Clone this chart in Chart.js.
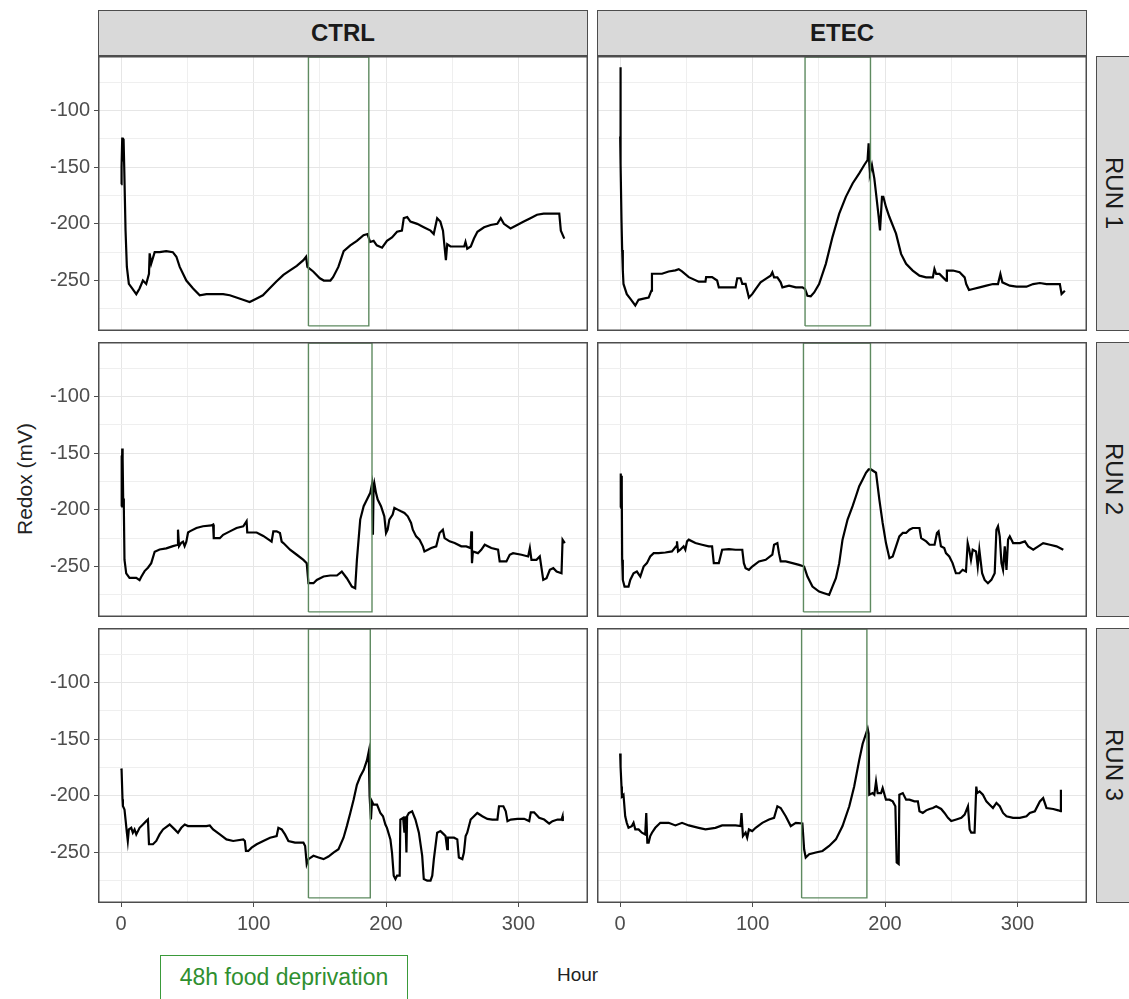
<!DOCTYPE html>
<html>
<head>
<meta charset="utf-8">
<title>Redox</title>
<script src="https://cdn.jsdelivr.net/npm/chart.js@4.4.1/dist/chart.umd.min.js"></script>
<style>
  body { margin: 0; background: #fff; }
  #page { position: relative; width: 1129px; height: 999px; overflow: hidden; background: #fff;
          font-family: "Liberation Sans", Arial, sans-serif; }
  .panel { position: absolute; }
  .strip-top { position: absolute; box-sizing: border-box; background: #d9d9d9; border: 1.5px solid #4d4d4d;
               display: flex; align-items: center; justify-content: center;
               font-weight: bold; font-size: 24px; color: #1a1a1a; }
  .strip-right { position: absolute; box-sizing: border-box; background: #d9d9d9; border: 1.5px solid #4d4d4d;
                 display: flex; align-items: center; justify-content: flex-start; padding-left: 5px;
                 font-size: 24px; color: #1a1a1a; }
  .strip-right span { writing-mode: vertical-rl; line-height: 24px; }
  #ytitle { position: absolute; left: 25px; top: 479px; transform: translate(-50%, -50%) rotate(-90deg);
            font-size: 21px; color: #222; white-space: nowrap; }
  #xtitle { position: absolute; left: 557px; top: 975px; transform: translateY(-50%);
            font-size: 19px; color: #222; }
  #note { position: absolute; left: 160px; top: 955px; width: 248px; height: 60px; box-sizing: border-box;
          border: 1.5px solid #3a9a3a; color: #2f8f2f; font-size: 23px; text-align: center; padding-top: 8px; }
</style>
</head>
<body>
<div id="page">
  <div id="ytitle">Redox (mV)</div>
  <div id="xtitle">Hour</div>
  <div id="note">48h food deprivation</div>
</div>
<script>
// facets
const groups = ['CTRL', 'ETEC'];
const runs = ['RUN 1', 'RUN 2', 'RUN 3'];

// axis ticks
const hourTicks = [0, 100, 200, 300];
const hourMinorTicks = [50, 150, 250];
const redoxTicks = [-100, -150, -200, -250];
const redoxMinorTicks = [-75, -125, -175, -225, -275];

// 48h food deprivation window, [row][col]
const deprivationStart = [[141.4, 139.6], [141.4, 138.4], [141.4, 137.0]];
const deprivationEnd = [[187.0, 189.0], [189.4, 189.0], [188.1, 186.3]];
const deprivationLow = -290;
const deprivationHigh = -53;

// [hour, redox mV]
const ctrlRun1 = [[0,-165],[0.3,-150],[0.8,-124],[1.3,-145],[1.8,-125],[2.3,-150],[2.8,-150],[3.3,-206],[4.3,-238],[5.8,-253],[8.3,-257],[11.4,-262],[13.9,-257],[16.4,-250],[18.9,-253],[21,-244],[21.5,-226],[22.7,-235],[25.3,-225],[29,-225],[34,-224],[39,-225],[41.7,-229],[44.2,-238],[49.2,-250],[54.3,-257],[59.3,-263],[64.4,-262],[77,-262],[82,-263],[87,-265],[92,-267],[97,-269],[102,-266],[107,-263],[112,-257],[117,-251],[122.5,-245],[127.5,-241],[132.6,-237],[137.6,-232],[139.6,-229],[140.6,-238],[145,-242],[150,-248],[153,-250],[158,-250],[160,-247],[164,-238],[168,-224],[173,-219],[178,-215],[183,-210],[186,-209],[188,-216],[190.6,-215],[193,-219],[197,-221],[200.7,-215],[204.5,-212],[208.3,-207],[212,-206],[213.4,-195],[216,-194],[218.4,-198],[223.5,-200],[228.5,-203],[233.6,-206],[236,-209],[238.6,-195],[241,-198],[243,-206],[244,-218],[245.2,-232],[246.2,-218],[248.7,-220],[254,-220],[259,-220],[260,-216],[261.3,-222],[264,-220],[266.4,-213],[269,-207],[274,-203],[279,-201],[284,-200],[286.6,-195],[289,-200],[294,-204],[299,-201],[304,-198],[309,-195],[314,-192],[319,-191],[324.5,-191],[330.8,-191],[332,-206],[334.6,-213]];
const etecRun1 = [[0,-123],[0.1,-62],[0.5,-147],[1,-197],[1.5,-223],[2,-241],[2.5,-253],[5,-262],[7.6,-266],[11.4,-272],[13.9,-267],[17.7,-266],[21.5,-265],[23.5,-259],[24,-244],[26.5,-244],[31.6,-244],[36.6,-242],[41.7,-241],[44.2,-240],[46.7,-242],[51.8,-247],[59.3,-251],[64.4,-251],[64.9,-247],[69.4,-247],[73.2,-250],[74.5,-256],[82.1,-256],[87.1,-256],[88.4,-248],[90.9,-248],[92.2,-253],[94.7,-253],[97.2,-265],[99.7,-262],[102.3,-257.5],[106,-251.6],[109.9,-248.6],[113.6,-245.7],[114.9,-242.7],[116.2,-247.2],[118.7,-247.2],[121.2,-251.6],[122.5,-256],[127.5,-254.5],[132.6,-256],[137.6,-256],[139.6,-257.5],[141.4,-263.4],[143.9,-263.9],[146.5,-260.5],[150.2,-253.1],[155.3,-235.3],[160.3,-211.7],[165.4,-191],[170.4,-176.2],[175.5,-164.4],[180.5,-155.5],[184.3,-148.1],[186.8,-143.7],[187.6,-129],[188.1,-146.7],[188.6,-155.5],[190.1,-148.1],[191.9,-159.9],[193.2,-173.2],[195.2,-193.9],[196.2,-205.8],[197.7,-176.2],[198.7,-176.2],[200.7,-185.1],[203.3,-194],[208.3,-208.7],[212.1,-226.5],[215.9,-235.3],[220.9,-241.2],[226,-245.7],[231,-247.2],[236.1,-247.2],[237.3,-239.8],[238.6,-244.2],[241.1,-244.2],[246.2,-250.1],[246.7,-241.2],[251.3,-241.2],[256.3,-242.7],[260.1,-247.2],[261.3,-253.1],[263.4,-258.4],[266.4,-257.5],[271.4,-256],[276.5,-254.5],[281.5,-253.1],[285.3,-253.1],[287.1,-244.2],[288.6,-251.6],[294.2,-254.5],[299.2,-255.4],[306.8,-255.4],[311.8,-253.1],[316.9,-252.2],[321.9,-253.1],[326.9,-253.1],[332,-253.1],[333.3,-261.9],[335.8,-259]];
const ctrlRun2 = [[0,-197],[0.2,-188],[0.4,-152],[0.6,-182],[0.8,-146],[1.0,-180],[1.2,-155],[1.5,-190],[2.0,-197],[2.5,-244],[3.8,-256],[6.3,-260],[8.8,-260],[11.4,-260],[13.9,-262],[15.2,-259],[17.7,-254],[20.2,-251],[22.7,-247],[25.3,-237],[29,-235],[34.1,-234],[39.1,-232],[42.2,-231],[42.9,-217.5],[43.7,-232],[45.4,-229],[46.7,-228],[47.9,-232],[49.2,-228],[50.5,-220],[51.8,-219],[56.8,-216],[61.8,-214.5],[68.2,-213.7],[69.4,-213],[69.9,-225],[74.5,-225],[77,-222],[82.1,-219],[87.1,-216],[92.2,-214.5],[94.7,-210],[95.2,-220],[102.3,-220],[107.3,-223],[113.6,-228],[114.9,-219],[117.4,-219],[119.9,-220.4],[121.2,-228],[122.5,-229.3],[127.5,-235.2],[132.6,-239.6],[137.6,-244.1],[140.1,-247],[141.4,-264.7],[145.2,-264.7],[147.7,-261.8],[152.8,-258.8],[157.8,-257.9],[162.9,-257.9],[166.6,-254.4],[170.4,-260.3],[174.2,-267.7],[176.7,-269.1],[178,-244.1],[180.5,-208.6],[183.1,-196.8],[185.6,-190.9],[188.1,-185],[189.4,-177.6],[190.1,-221.9],[190.6,-179.1],[191.1,-176.2],[192.4,-185],[193.7,-190.9],[196.2,-196.8],[198.7,-205.7],[200,-220.4],[201.2,-217.5],[202.5,-208.6],[205,-204.2],[206.3,-198.3],[208.8,-199.8],[211.3,-201.3],[213.9,-202.7],[216.4,-205.7],[218.9,-211.6],[220.2,-217.5],[222.7,-223.4],[225.3,-226.3],[227.8,-232.2],[229,-236.7],[231.6,-235.2],[234.1,-233.7],[237.9,-232.2],[240.4,-220.4],[242.9,-217.5],[244.2,-224.9],[248,-227.8],[251.8,-229.3],[256.8,-232.2],[260.6,-232.2],[263.9,-233.7],[264.4,-219],[264.9,-247],[265.6,-236.7],[269.4,-238.2],[271.9,-235.2],[274.5,-230.8],[279.5,-233.7],[284.6,-235.2],[285.8,-245.5],[290.9,-245.5],[293.4,-239.6],[295.9,-238.2],[302.3,-239.6],[307.3,-241.1],[308.6,-233.7],[309.8,-244.1],[313.6,-244.1],[316.1,-241.1],[318.7,-261.8],[321.2,-260.3],[323.7,-252.9],[326.3,-251.4],[328.8,-254.4],[332.5,-255.9],[333.3,-226.3],[335,-229.3]];
const etecRun2 = [[0,-198],[0.3,-168],[0.6,-196],[0.9,-170],[1.2,-182],[1.5,-244],[2,-261.8],[3.3,-267.7],[6.3,-267.7],[7.6,-261.8],[10.1,-255.9],[12.6,-254.4],[15.2,-258.8],[17.7,-250],[20.2,-247],[22.7,-241.1],[25.3,-238.2],[29,-238.2],[34.1,-237.6],[39.1,-236.7],[42.2,-232.2],[42.9,-227.8],[43.7,-236.7],[45.4,-235.2],[47.9,-232.2],[49.2,-235.2],[50.5,-227.8],[51.8,-226.3],[56.8,-229.3],[61.8,-230.8],[66.9,-232.2],[69.4,-232.2],[70.7,-247],[74.5,-247],[77,-235.2],[82.1,-234.6],[87.1,-235.2],[92.2,-235.2],[93.4,-247],[94.7,-251.4],[97.2,-252.9],[99.7,-250],[104.8,-245.5],[109.9,-244.1],[114.9,-239.6],[116.2,-230.8],[118.7,-229.3],[119.9,-238.2],[121.2,-245.5],[125,-245.5],[130.1,-247],[135.1,-248.5],[138.9,-250],[141.4,-258.8],[145.2,-267.7],[150.2,-272.1],[154,-273.6],[157.8,-275],[160.3,-267.7],[162.9,-260.3],[165.4,-247],[167.9,-226.3],[171.7,-208.6],[175.5,-196.8],[178,-188],[180.5,-179.1],[183.1,-173.2],[185.6,-167.3],[187.6,-164.4],[189.4,-164.4],[193.2,-167.3],[195.7,-190.9],[198.2,-211.6],[200.7,-229.3],[203.3,-242.6],[205.8,-241.1],[208.3,-232.2],[210.8,-223.4],[213.4,-220.4],[215.9,-220.4],[218.4,-217.5],[220.9,-216],[226,-216],[227.3,-224.9],[231.1,-227.8],[233.6,-230.8],[237.4,-230.8],[239.2,-220.4],[240.4,-219],[242.2,-232.2],[244.7,-233.7],[246,-238.2],[248.5,-241.1],[251,-247],[253.5,-255.9],[256.1,-255.9],[258.6,-252.9],[261.1,-254.4],[262.4,-229.3],[263.6,-235.2],[264.9,-244.1],[266.2,-235.2],[268.7,-236.7],[270,-250],[271.2,-235.2],[273.3,-255.9],[275.2,-261.8],[277.7,-264.7],[280.3,-261.8],[282.8,-255.9],[284.1,-217.5],[285.3,-214.5],[286.6,-223.4],[287.9,-247],[289.1,-252.9],[290.4,-232.2],[291.7,-252.9],[292.9,-226.3],[294.2,-223.4],[296.7,-229.3],[301.8,-229.3],[305.6,-227.8],[308.1,-232.2],[311.9,-235.2],[315.7,-232.2],[319.4,-229.3],[324.5,-230.8],[329.5,-232.2],[334.6,-235.2]];
const ctrlRun3 = [[0,-176],[0.3,-177],[1,-203],[1.3,-209],[2.5,-212],[3.3,-221],[4.3,-232.5],[5,-239.8],[5.8,-229.6],[7.6,-228.2],[8.8,-232.5],[10.1,-229.6],[11.4,-234],[13.9,-228.2],[16.4,-225.3],[18.9,-222.3],[20.2,-220.9],[21,-242.7],[24,-242.7],[26.5,-239.8],[29,-234],[31.6,-229.6],[36.6,-225.3],[40.4,-229.6],[42.9,-232.5],[45.4,-228.2],[48,-225.3],[50.5,-226.7],[54.3,-226.7],[59.3,-226.7],[64.4,-226.7],[66.9,-226.1],[69.4,-229.6],[74.5,-234],[79.5,-238.4],[84.6,-239.8],[92.2,-238.4],[93.4,-239.8],[94.2,-248.6],[96,-248.6],[98.5,-245.7],[102.3,-242.7],[107.3,-239.8],[112.4,-236.9],[117.4,-235.5],[118.7,-228.2],[121.2,-229.6],[123.7,-234],[126.3,-239.8],[131.3,-241.3],[137.6,-241.3],[138.9,-244.2],[140.1,-260.2],[141.4,-255.8],[145.2,-252.9],[149,-254.4],[152.8,-255.8],[156.5,-253.5],[160.3,-250],[164.1,-247.1],[167.9,-236.9],[170.4,-226.7],[173,-215.1],[175.5,-203.4],[178,-190.3],[180.5,-183],[183.1,-177.2],[185.6,-168.5],[186.9,-161.2],[187.6,-200.5],[188.6,-220.9],[189.4,-205],[190.6,-207.8],[193.2,-207.8],[195.7,-215.1],[197.7,-218],[199.5,-225.3],[200.7,-228.2],[203.3,-238.4],[204.5,-250],[205.8,-270.4],[207.1,-273.3],[208.3,-270.4],[210.3,-270.4],[210.8,-220.9],[212.9,-219.4],[213.9,-232.5],[214.6,-218],[215.4,-250],[215.9,-218],[217.2,-215.1],[219.7,-213.6],[222.2,-220.9],[224.8,-232.5],[227.3,-253],[228.5,-273.3],[231.1,-274.8],[233.6,-274.8],[234.9,-270.4],[236.1,-255.8],[238.6,-232.5],[241.1,-231.1],[243.7,-234],[244.9,-235.5],[246.2,-247.1],[246.7,-236.9],[251.3,-236.9],[253.8,-238.4],[255,-254.4],[257.6,-255.8],[258.8,-250],[260.1,-235.5],[261.3,-232.5],[263.9,-220.9],[268.9,-215.1],[272.7,-218],[276.5,-220.3],[280.3,-220.9],[284.1,-220.9],[285.3,-209.2],[288.6,-209.2],[290.4,-213.6],[291.7,-222.3],[294.2,-220.9],[299.2,-220.3],[304.3,-220.3],[308.1,-222.3],[309.3,-214.5],[311.8,-214.5],[315.6,-219.4],[319.4,-220.9],[323.2,-224.4],[325.7,-222.3],[329.5,-220.9],[332.5,-220.9],[333.3,-218],[333.5,-222.3]];
const etecRun3 = [[0,-162.6],[0.3,-174.3],[1,-191.8],[1.3,-200.5],[2.5,-199],[3.8,-218],[5,-223.8],[6.3,-228.2],[8.8,-226.7],[10.1,-223.8],[11.4,-229.6],[13.9,-229.6],[16.4,-232.5],[18.9,-234],[19.7,-215.1],[20.5,-241.3],[21.5,-241.3],[22.7,-235.5],[24,-232.5],[26.5,-228.2],[30.3,-223.8],[36.6,-223.8],[41.7,-226.1],[46.7,-223.8],[51.8,-226.1],[59.3,-228.2],[64.4,-229.6],[71.9,-228.2],[77,-226.1],[87.1,-226.1],[90.9,-226.7],[91.6,-215.1],[92.7,-235.5],[94.7,-232.5],[95.9,-236.9],[97.2,-229.6],[99.7,-231.1],[102.3,-228.2],[107.3,-223.8],[112.4,-220.9],[116.2,-219.4],[118.7,-209.2],[121.2,-210.7],[125,-218],[128.8,-226.7],[132.6,-223.8],[137.6,-224.4],[138.9,-247.1],[140.1,-254.4],[142.7,-251.5],[147.7,-250],[152.8,-248.6],[157.8,-244.2],[162.9,-238.4],[167.9,-226.7],[173,-209.2],[176.7,-191.8],[180.5,-168.5],[183.1,-154],[186.9,-140.8],[187.6,-145.1],[188.1,-199],[190.6,-197.6],[191.9,-199],[193.2,-187.4],[194.4,-197.6],[197,-197.6],[198.2,-193.2],[200.7,-203.4],[203.3,-203.4],[205.8,-204.9],[207.8,-209.2],[208.8,-258.8],[210.3,-260.2],[210.8,-199],[213.4,-197.6],[215.9,-203.4],[218.4,-203.4],[222.2,-204.9],[224.8,-204.9],[226,-213.6],[228.5,-215.1],[231.1,-212.8],[233.6,-211.6],[236.1,-210.7],[238.6,-209.2],[242.4,-211.6],[244.9,-215.1],[247.5,-219.4],[250,-222.3],[253.8,-220.9],[257.6,-219.4],[260.1,-216.5],[262.6,-209.2],[263.9,-229.6],[265.1,-232.5],[267.6,-232.5],[268.9,-191.8],[269.6,-197.6],[271.4,-196.1],[273.9,-199],[276.5,-204.9],[279,-207.8],[281.5,-210.7],[284.1,-206.3],[286.6,-209.2],[289.1,-215.1],[291.7,-218],[296.7,-219.4],[301.8,-219.4],[306.8,-218],[309.3,-215.1],[313.1,-213.6],[316.9,-204.9],[319.4,-202],[321.9,-210.7],[327,-211.6],[330.8,-212.8],[332.5,-213.6],[332.8,-194.7]];

const panelSeries = [[ctrlRun1, etecRun1], [ctrlRun2, etecRun2], [ctrlRun3, etecRun3]];

// layout
const colLeft = [98, 597];
const rowTop = [56, 342, 628];
const plotW = 490, plotH = 275;
const yAxisW = 78, xAxisH = 45;
const tickFont = { family: '"Liberation Sans", Arial, sans-serif', size: 20 };

const page = document.getElementById('page');

groups.forEach((g, c) => {
  const d = document.createElement('div');
  d.className = 'strip-top';
  d.style.left = colLeft[c] + 'px';
  d.style.top = '10px';
  d.style.width = plotW + 'px';
  d.style.height = (rowTop[0] - 10) + 'px';
  d.textContent = g;
  page.appendChild(d);
});

runs.forEach((r, row) => {
  const d = document.createElement('div');
  d.className = 'strip-right';
  d.style.left = '1096px';
  d.style.top = rowTop[row] + 'px';
  d.style.width = '46px';
  d.style.height = plotH + 'px';
  const s = document.createElement('span');
  s.textContent = r;
  d.appendChild(s);
  page.appendChild(d);
});

const panelBorder = {
  id: 'panelBorder',
  afterDatasetsDraw(chart) {
    const { ctx, chartArea: a } = chart;
    ctx.save();
    ctx.strokeStyle = '#4d4d4d';
    ctx.lineWidth = 1.5;
    ctx.strokeRect(a.left + 0.75, a.top + 0.75, a.right - a.left - 1.5, a.bottom - a.top - 1.5);
    ctx.restore();
  }
};

function makePanel(row, col) {
  const showY = col === 0;
  const showX = row === runs.length - 1;

  const wrap = document.createElement('div');
  wrap.className = 'panel';
  wrap.style.left = (colLeft[col] - (showY ? yAxisW : 0)) + 'px';
  wrap.style.top = rowTop[row] + 'px';
  wrap.style.width = (plotW + (showY ? yAxisW : 0)) + 'px';
  wrap.style.height = (plotH + (showX ? xAxisH : 0)) + 'px';
  const canvas = document.createElement('canvas');
  wrap.appendChild(canvas);
  page.appendChild(wrap);

  const s = deprivationStart[row][col], e = deprivationEnd[row][col];
  const rect = [
    { x: s, y: deprivationLow }, { x: s, y: deprivationHigh },
    { x: e, y: deprivationHigh }, { x: e, y: deprivationLow },
    { x: s, y: deprivationLow }
  ];

  new Chart(canvas, {
    type: 'line',
    data: {
      datasets: [
        {
          data: panelSeries[row][col].map(p => ({ x: p[0], y: p[1] })),
          borderColor: '#000', borderWidth: 2.2, pointRadius: 0, tension: 0, order: 1
        },
        {
          data: rect,
          borderColor: '#5e8a60', borderWidth: 1.4, pointRadius: 0, tension: 0, order: 0
        }
      ]
    },
    options: {
      animation: false,
      responsive: true,
      maintainAspectRatio: false,
      events: [],
      layout: { padding: 0 },
      plugins: { legend: { display: false }, tooltip: { enabled: false } },
      scales: {
        x: {
          type: 'linear', min: -17.5, max: 352.5,
          afterBuildTicks: sc => {
            sc.ticks = hourTicks.concat(hourMinorTicks).sort((a, b) => a - b).map(v => ({ value: v }));
          },
          afterFit: sc => {
            sc.height = showX ? xAxisH : 0;
            sc.paddingLeft = 0; sc.paddingRight = 0;
          },
          border: { display: false },
          grid: {
            color: c => hourTicks.includes(c.tick.value) ? '#e6e6e6' : '#efefef',
            lineWidth: 1,
            drawTicks: showX, tickLength: 4,
            tickColor: c => hourTicks.includes(c.tick.value) ? '#4d4d4d' : 'rgba(0,0,0,0)'
          },
          ticks: {
            display: showX, autoSkip: false, maxRotation: 0, padding: 5,
            font: tickFont, color: '#4d4d4d',
            callback: v => hourTicks.includes(v) ? String(v) : ''
          }
        },
        y: {
          min: -294.5, max: -52,
          afterBuildTicks: sc => {
            sc.ticks = redoxTicks.concat(redoxMinorTicks).sort((a, b) => a - b).map(v => ({ value: v }));
          },
          afterFit: sc => {
            sc.width = showY ? yAxisW : 0;
            sc.paddingTop = 0; sc.paddingBottom = 0;
          },
          border: { display: false },
          grid: {
            color: c => redoxTicks.includes(c.tick.value) ? '#e6e6e6' : '#efefef',
            lineWidth: 1,
            drawTicks: showY, tickLength: 4,
            tickColor: c => redoxTicks.includes(c.tick.value) ? '#4d4d4d' : 'rgba(0,0,0,0)'
          },
          ticks: {
            display: showY, autoSkip: false, padding: 4,
            font: tickFont, color: '#4d4d4d',
            callback: v => redoxTicks.includes(v) ? String(v) : ''
          }
        }
      }
    },
    plugins: [panelBorder]
  });
}

for (let row = 0; row < runs.length; row++) {
  for (let col = 0; col < groups.length; col++) {
    makePanel(row, col);
  }
}
</script>
</body>
</html>
